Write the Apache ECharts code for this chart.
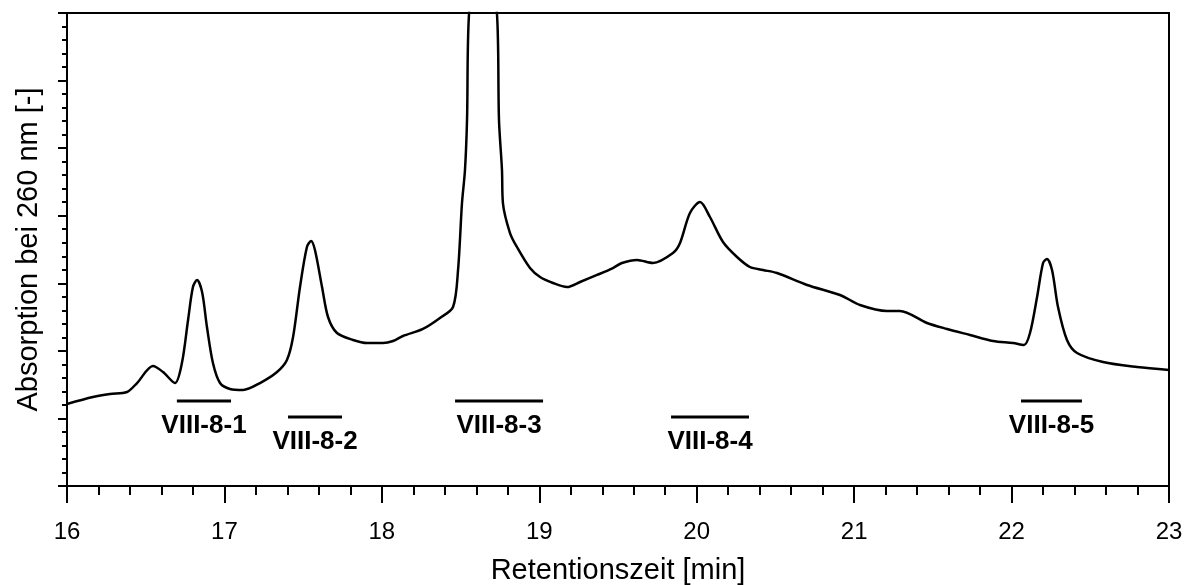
<!DOCTYPE html>
<html>
<head>
<meta charset="utf-8">
<script src="https://cdn.jsdelivr.net/npm/echarts@6/dist/echarts.min.js"></script>
<style>html,body{margin:0;padding:0;background:#fff}#c{width:1187px;height:585px}</style>
</head>
<body>
<div id="c"></div>
<script>
// Chromatogram trace: retention time [min] and absorption (relative units)
const retentionTime = [16.000,16.165,16.273,16.381,16.445,16.546,16.610,16.686,16.730,16.769,16.800,16.826,16.858,16.889,16.927,16.972,17.035,17.118,17.226,17.334,17.397,17.436,17.480,17.524,17.550,17.575,17.620,17.658,17.715,17.817,17.906,18.007,18.071,18.134,18.261,18.369,18.452,18.484,18.509,18.528,18.541,18.554,18.640,18.731,18.744,18.763,18.769,18.814,18.858,18.941,19.005,19.087,19.176,19.259,19.367,19.468,19.525,19.621,19.722,19.849,19.894,19.957,20.021,20.084,20.167,20.256,20.338,20.421,20.510,20.701,20.910,21.037,21.209,21.291,21.463,21.590,21.736,21.882,22.009,22.079,22.117,22.162,22.200,22.225,22.257,22.295,22.352,22.416,22.581,22.797,23.000];
const absorption = [1.214,1.317,1.362,1.391,1.524,1.776,1.687,1.524,1.820,2.457,2.945,3.049,2.871,2.353,1.820,1.524,1.436,1.421,1.524,1.687,1.865,2.205,2.945,3.537,3.626,3.493,2.945,2.501,2.264,2.161,2.116,2.116,2.146,2.220,2.324,2.486,2.649,3.197,4.188,4.677,5.417,7.000,9.000,7.000,5.417,4.677,4.188,3.744,3.537,3.226,3.093,3.004,2.945,3.019,3.123,3.226,3.300,3.345,3.300,3.448,3.596,4.040,4.203,3.981,3.611,3.389,3.241,3.197,3.152,2.975,2.827,2.679,2.590,2.590,2.412,2.324,2.235,2.146,2.116,2.087,2.264,2.797,3.300,3.359,3.197,2.649,2.161,1.968,1.835,1.761,1.717];

// Collected fractions
const fractionNames = ['VIII-8-1','VIII-8-2','VIII-8-3','VIII-8-4','VIII-8-5'];
const fractionStart = [16.698,17.404,18.465,19.837,22.060];
const fractionEnd   = [17.042,17.747,19.024,20.332,22.447];
const fractionLevel = [1.258,1.021,1.258,1.021,1.258];

// Axis settings
const xMin = 16, xMax = 23, xStep = 1;
const yMin = 0, yMax = 7, yStep = 1;
const xTitle = 'Retentionszeit [min]';
const yTitle = 'Absorption bei 260 nm [-]';

const FONT = 'Liberation Sans, Arial, sans-serif';
const traceData = retentionTime.map((t, i) => [t, absorption[i]]);
const fractionSeries = fractionNames.map((n, i) => ({
  type: 'line',
  data: [[fractionStart[i], fractionLevel[i]], [fractionEnd[i], fractionLevel[i]]],
  symbol: 'none',
  lineStyle: {color: '#000', width: 3},
  silent: true,
  z: 3
}));
const labelSeries = {
  type: 'scatter',
  symbol: 'circle',
  symbolSize: 1,
  itemStyle: {color: 'rgba(0,0,0,0)', opacity: 1},
  data: fractionNames.map((n, i) => ({
    value: [(fractionStart[i] + fractionEnd[i]) / 2, fractionLevel[i]],
    name: n
  })),
  label: {
    show: true,
    position: 'bottom',
    distance: 11,
    formatter: p => p.name,
    color: '#000',
    opacity: 1,
    fontFamily: FONT,
    fontWeight: 'bold',
    fontSize: 26
  },
  silent: true,
  z: 4
};

const chart = echarts.init(document.getElementById('c'), null, {renderer: 'canvas'});
chart.setOption({
  animation: false,
  backgroundColor: '#fff',
  grid: {left: 67, right: 18, top: 13, bottom: 99, outerBoundsMode: 'none', containLabel: false, show: true, borderColor: '#000', borderWidth: 2, backgroundColor: 'transparent'},
  xAxis: {
    type: 'value', min: xMin, max: xMax, interval: xStep,
    name: xTitle, nameLocation: 'middle', nameGap: 70,
    nameTextStyle: {color: '#000', fontSize: 29, fontFamily: FONT},
    axisLine: {show: true, onZero: false, lineStyle: {color: '#000', width: 2}},
    axisTick: {show: true, inside: false, length: 17, lineStyle: {color: '#000', width: 2}},
    minorTick: {show: true, splitNumber: 5, length: 9, lineStyle: {color: '#000', width: 2}},
    axisLabel: {color: '#000', fontSize: 24, margin: 34, fontFamily: FONT},
    splitLine: {show: false}
  },
  yAxis: {
    type: 'value', min: yMin, max: yMax, interval: yStep,
    name: yTitle, nameLocation: 'middle', nameRotate: 90, nameGap: 24,
    nameTextStyle: {color: '#000', fontSize: 29, fontFamily: FONT},
    axisLine: {show: true, onZero: false, lineStyle: {color: '#000', width: 2}},
    axisTick: {show: true, inside: false, length: 9, lineStyle: {color: '#000', width: 2}},
    minorTick: {show: true, splitNumber: 5, length: 5, lineStyle: {color: '#000', width: 2}},
    axisLabel: {show: false},
    splitLine: {show: false}
  },
  series: [
    {
      type: 'line',
      data: traceData,
      symbol: 'none',
      smooth: 0.3,
      clip: true,
      lineStyle: {color: '#000', width: 2.5},
      silent: true,
      z: 2
    },
    ...fractionSeries,
    labelSeries
  ]
});
</script>
</body>
</html>
